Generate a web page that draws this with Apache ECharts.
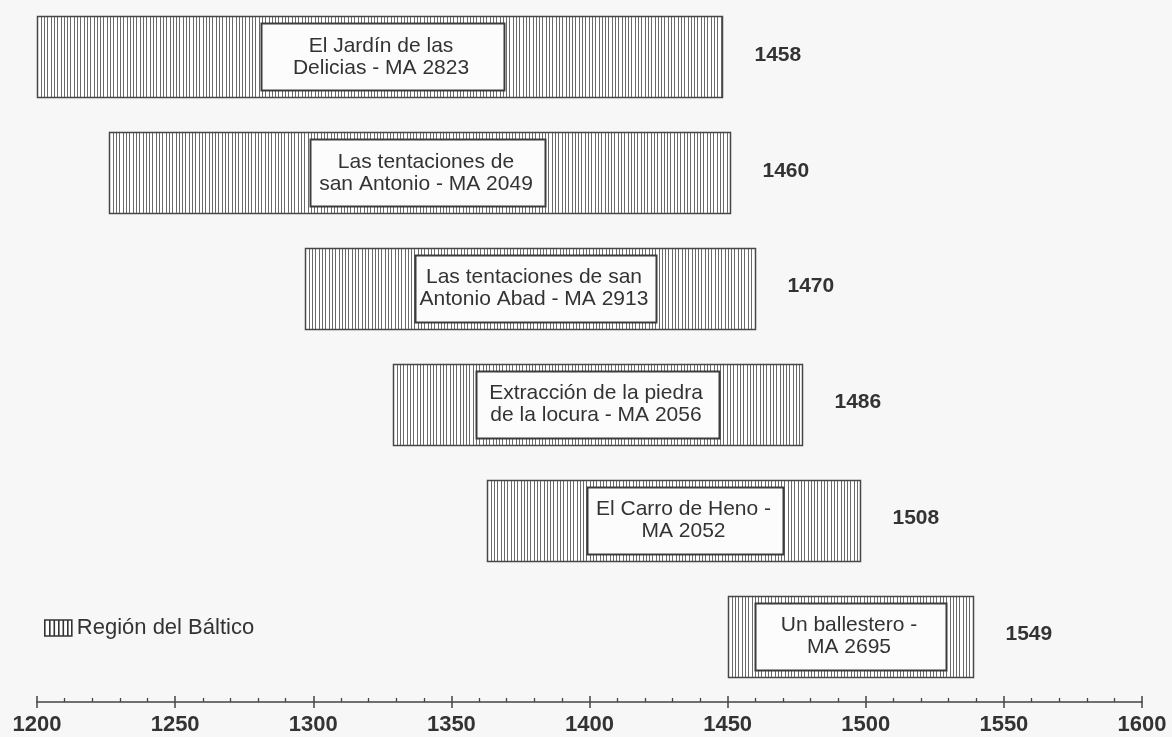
<!DOCTYPE html>
<html>
<head>
<meta charset="utf-8">
<title>Región del Báltico</title>
<script src="https://cdn.jsdelivr.net/npm/echarts@6/dist/echarts.min.js"></script>
<style>
  html, body { margin: 0; padding: 0; background: #f7f7f7; }
  #chart { width: 1172px; height: 737px; }
</style>
</head>
<body>
<div id="chart"></div>
<script>
// Panel titles (one per row, top to bottom)
const titles = [
  'El Jardín de las\nDelicias - MA 2823',
  'Las tentaciones de\nsan Antonio - MA 2049',
  'Las tentaciones de san\nAntonio Abad - MA 2913',
  'Extracción de la piedra\nde la locura - MA 2056',
  'El Carro de Heno -\nMA 2052',
  'Un ballestero -\nMA 2695'
];
// Ring series span (years)
const spanStart = [1200, 1226, 1297, 1329, 1363, 1450];
const spanEnd   = [1448, 1451, 1460, 1477, 1498, 1539];
// Extent of the white title box inside each bar (years)
const boxStart  = [1281, 1299, 1337, 1359, 1399, 1460];
const boxEnd    = [1369, 1384, 1424, 1447, 1470, 1529];
// Year shown to the right of each bar
const dates     = [1458, 1460, 1470, 1486, 1508, 1549];
// Axis ticks
const axisMin = 1200, axisMax = 1600, axisStep = 50;
const legendName = 'Región del Báltico';

const FONT = '"Liberation Sans", Arial, Helvetica, sans-serif';
const INK = '#333333';

const rows = titles.map((t, i) => [i, spanStart[i], spanEnd[i], boxStart[i], boxEnd[i]]);

function renderItem(params, api) {
  const idx = params.dataIndex;
  const row = api.value(0);
  const a = api.coord([api.value(1), row]);
  const b = api.coord([api.value(2), row]);
  const c = api.coord([api.value(3), row]);
  const d = api.coord([api.value(4), row]);
  const h = 81;
  const x0 = Math.round(a[0]) + 0.5, x1 = Math.round(b[0]) + 0.5;
  const yc = a[1];
  const top = Math.round(yc - h / 2) + 0.5;

  // vertical hatch
  let path = '';
  for (let x = x0 + 3.3; x < x1 - 1.5; x += 3.3) {
    const px = Math.round(x) + 0.5;
    path += 'M' + px + ',' + top + 'V' + (top + h);
  }

  const bx0 = Math.round(c[0]) + 0.5, bx1 = Math.round(d[0]) + 0.5;
  return {
    type: 'group',
    children: [
      { type: 'rect', shape: { x: x0, y: top, width: x1 - x0, height: h },
        style: { fill: '#ffffff' } },
      { type: 'path', shape: { pathData: path },
        style: { fill: null, stroke: '#6a6a6a', lineWidth: 1 } },
      { type: 'rect', shape: { x: x0, y: top, width: x1 - x0, height: h },
        style: { fill: null, stroke: '#474747', lineWidth: 1.5 } },
      { type: 'rect', shape: { x: bx0, y: top + 7, width: bx1 - bx0, height: h - 14 },
        style: { fill: '#fcfcfc', stroke: '#3c3c3c', lineWidth: 2 } },
      { type: 'text', x: (bx0 + bx1) / 2 - 2, y: yc,
        style: { text: titles[idx], fill: INK, fontFamily: FONT, fontSize: 21,
                 lineHeight: 22, align: 'center', verticalAlign: 'middle' } },
      { type: 'text', x: x1 + 32, y: yc - 2,
        style: { text: String(dates[idx]), fill: INK, fontFamily: FONT, fontSize: 21,
                 fontWeight: 'bold', align: 'left', verticalAlign: 'middle' } }
    ]
  };
}

const chart = echarts.init(document.getElementById('chart'), null, { renderer: 'canvas' });

const baseX = {
  type: 'value', min: axisMin, max: axisMax, interval: axisStep,
  position: 'bottom', offset: 0, splitLine: { show: false }
};

chart.setOption({
  backgroundColor: '#f7f7f7',
  animation: false,
  grid: { left: 37, right: 30, top: 0, bottom: 35, containLabel: false },
  legend: {
    left: 39, top: 612, selectedMode: false,
    itemWidth: 27, itemHeight: 16, itemGap: 6,
    textStyle: { fontFamily: FONT, fontSize: 22, color: INK },
    data: [{
      name: legendName,
      icon: 'path://M0,0H27V16H0Z M5,0V16 M9.5,0V16 M14,0V16 M18.5,0V16 M23,0V16',
      itemStyle: { color: '#ffffff', borderColor: '#333333', borderWidth: 1.6 }
    }]
  },
  xAxis: [
    Object.assign({}, baseX, {
      axisLine: { show: true, onZero: false, lineStyle: { color: '#444', width: 1.5 } },
      axisTick: { show: true, inside: false, length: 6, lineStyle: { color: '#444', width: 1.5 } },
      axisLabel: { show: true, margin: 12, fontFamily: FONT, fontSize: 22,
                   fontWeight: 'bold', color: INK, formatter: v => String(v) }
    }),
    Object.assign({}, baseX, {
      axisLine: { show: false, onZero: false },
      axisTick: { show: true, inside: true, length: 6, lineStyle: { color: '#444', width: 1.5 } },
      minorTick: { show: true, splitNumber: 5, length: 4, lineStyle: { color: '#444', width: 1.3 } },
      axisLabel: { show: false }
    })
  ],
  yAxis: {
    type: 'value', inverse: true, min: -0.49, max: 5.565, show: false
  },
  series: [{
    name: legendName,
    type: 'custom',
    xAxisIndex: 0, yAxisIndex: 0,
    itemStyle: { color: '#ffffff', borderColor: '#333333' },
    encode: { x: [1, 2], y: 0 },
    renderItem: renderItem,
    data: rows
  }]
});
</script>
</body>
</html>
